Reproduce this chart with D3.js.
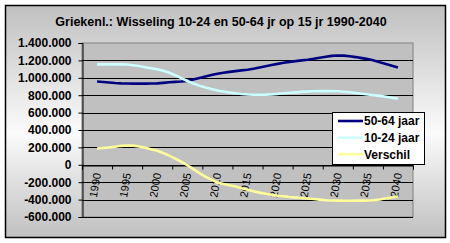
<!DOCTYPE html>
<html><head><meta charset="utf-8">
<script src="https://cdn.jsdelivr.net/npm/d3@7/dist/d3.min.js"></script>
<style>html,body{margin:0;padding:0;background:#fff;}svg{display:block;}</style>
</head><body>
<script>
const title = "Griekenl.: Wisseling 10-24 en 50-64 jr op 15 jr 1990-2040";
const years = d3.range(1990, 2041);
const tickYears = [1990,1995,2000,2005,2010,2015,2020,2025,2030,2035,2040];
const yTicks = [-600000,-400000,-200000,0,200000,400000,600000,800000,1000000,1200000,1400000];
const seriesNames = ["50-64 jaar","10-24 jaar","Verschil"];
const seriesColors = ["#000080","#ccffff","#ffff99"];
const s5064 = [958,952,946,940,936,934,933,933,933,934,936,942,948,953,958,965,980,997,1015,1032,1047,1058,1068,1077,1085,1093,1105,1118,1132,1146,1160,1172,1183,1192,1200,1208,1218,1230,1242,1252,1256,1255,1248,1238,1226,1215,1200,1178,1158,1138,1118].map(v=>v*1000);
const s1024 = [1154,1154,1154,1154,1154,1153,1145,1135,1122,1110,1098,1080,1058,1030,997,963,935,910,888,870,855,843,832,822,813,808,806,806,807,810,815,822,828,833,838,842,845,847,848,847,845,840,833,825,816,808,800,792,782,771,760].map(v=>v*1000);
const sVerschil = [188,193,199,208,218,222,220,210,195,178,162,135,105,72,35,-5,-50,-95,-135,-170,-205,-220,-236,-250,-270,-288,-305,-320,-333,-345,-355,-362,-370,-376,-381,-387,-393,-400,-407,-410,-412,-413,-413,-412,-412,-411,-408,-398,-385,-375,-364].map(v=>v*1000);
const seriesValues = [s5064, s1024, sVerschil];

const W = 450, H = 243;
const svg = d3.select("body").append("svg").attr("width", W).attr("height", H);
const defs = svg.append("defs");
const grad = defs.append("linearGradient").attr("id","bg").attr("x1",0).attr("y1",0).attr("x2",0).attr("y2",1);
grad.append("stop").attr("offset","0%").attr("stop-color","#c0c0c0");
grad.append("stop").attr("offset","55%").attr("stop-color","#fbfbfb");
grad.append("stop").attr("offset","100%").attr("stop-color","#c0c0c0");

svg.append("rect").attr("x",5.5).attr("y",5.5).attr("width",440).attr("height",232)
  .attr("fill","url(#bg)").attr("stroke","#000").attr("stroke-width",1.5);

const pl = 82, pr = 413, pt = 43, pb = 217;
const x = d3.scaleLinear().domain([1987.5, 2042.5]).range([pl, pr]);
const y = d3.scaleLinear().domain([-600000, 1400000]).range([pb, pt]);

svg.append("rect").attr("x",pl).attr("y",pt).attr("width",pr-pl).attr("height",pb-pt)
  .attr("fill","#c0c0c0").attr("stroke","#808080").attr("stroke-width",1);

// gridlines
svg.append("g").selectAll("line").data(yTicks.filter(d=>d!==1400000)).join("line")
  .attr("x1",pl).attr("x2",pr).attr("y1",d=>Math.round(y(d))+0.5).attr("y2",d=>Math.round(y(d))+0.5)
  .attr("stroke","#000").attr("stroke-width",1);

// y axis
const fmt = d => d3.format(",")(d).replace(/,/g,".").replace("−","-");
const yAxis = d3.axisLeft(y).tickValues(yTicks).tickSize(4).tickFormat(fmt);
const gy = svg.append("g").attr("transform",`translate(${pl+0.5},0)`).call(yAxis);
gy.select(".domain").attr("stroke","#000");
gy.selectAll(".tick line").attr("stroke","#000");
gy.selectAll(".tick text").attr("font-family","Arial, 'Liberation Sans', sans-serif")
  .attr("font-size","12px").attr("font-weight","bold").attr("fill","#000").attr("x",-11);

// x axis ticks at category boundaries on zero line
const tickBounds = d3.range(1987.5, 2043, 5);
const xAxis = d3.axisBottom(x).tickValues(tickBounds).tickSize(4).tickFormat("");
const gx = svg.append("g").attr("transform",`translate(0,${Math.round(y(0))+0.5})`).call(xAxis);
gx.select(".domain").attr("stroke","#000");
gx.selectAll(".tick line").attr("stroke","#000");

// x labels
svg.append("g").selectAll("text").data(tickYears).join("text")
  .attr("transform",d=>`translate(${x(d)+4},${y(0)+9}) rotate(-80)`)
  .attr("text-anchor","end")
  .attr("font-family","Arial, 'Liberation Sans', sans-serif").attr("font-size","11px")
  .attr("fill","#000").text(d=>d);

// lines
const line = d3.line().x((d,i)=>x(years[i])).y(d=>y(d));
seriesValues.forEach((vals,k)=>{
  svg.append("path").datum(vals).attr("d",line).attr("fill","none")
    .attr("stroke",seriesColors[k]).attr("stroke-width",2.6);
});

// title
svg.append("text").attr("x",221).attr("y",26).attr("text-anchor","middle")
  .attr("font-family","Arial, 'Liberation Sans', sans-serif").attr("font-size","12.5px")
  .attr("font-weight","bold").attr("fill","#000").text(title);

// legend
const lg = svg.append("g");
lg.append("rect").attr("x",332.5).attr("y",112.5).attr("width",92).attr("height",52)
  .attr("fill","#fff").attr("stroke","#000").attr("stroke-width",1);
seriesNames.forEach((n,k)=>{
  const cy = 121 + k*16.6;
  lg.append("line").attr("x1",338).attr("x2",363).attr("y1",cy).attr("y2",cy)
    .attr("stroke",seriesColors[k]).attr("stroke-width",2.6);
  lg.append("text").attr("x",364).attr("y",cy+4.3)
    .attr("font-family","Arial, 'Liberation Sans', sans-serif").attr("font-size","12px")
    .attr("font-weight","bold").attr("fill","#000").text(n);
});
</script>
</body></html>
